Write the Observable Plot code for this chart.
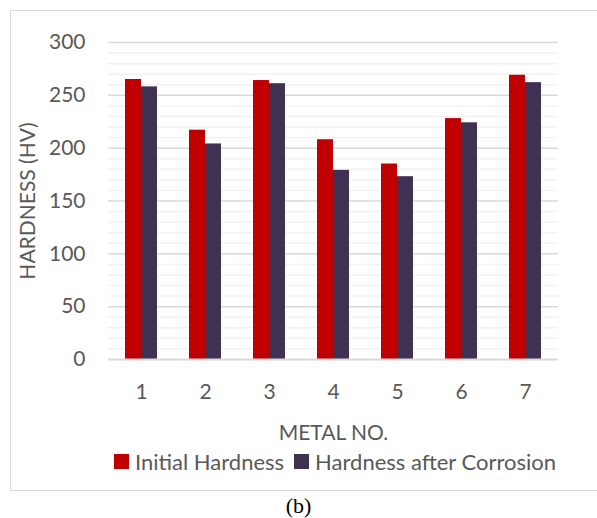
<!DOCTYPE html>
<html>
<head>
<meta charset="utf-8">
<script src="https://cdn.jsdelivr.net/npm/d3@7"></script>
<script src="https://cdn.jsdelivr.net/npm/@observablehq/plot@0.6"></script>
<style>
  html, body { margin: 0; padding: 0; background: #fff; overflow: hidden; }
  #wrap { position: relative; width: 597px; height: 518px; font-family: Lato, "Open Sans", sans-serif; }
  #frame { position: absolute; left: 10px; top: 10px; width: 600px; height: 479px; border: 1.5px solid #d9d9d9; border-right: none; }
  #chart { position: absolute; left: 0; top: 0; }
  #legend { position: absolute; top: 448px; left: 114px; display: flex; align-items: center; font-size: 22px; color: #595959; white-space: nowrap; }
  #legend .sw { width: 15px; height: 15px; display: inline-block; margin-right: 6px; }
  #legend .item { display: flex; align-items: center; margin-right: 10px; }
  #caption { position: absolute; top: 493px; left: 0; width: 597px; text-align: center; font-family: "Liberation Serif", "DejaVu Serif", serif; font-size: 22px; color: #000; }
</style>
</head>
<body>
<div id="wrap">
  <div id="frame"></div>
  <div id="chart"></div>
  <div id="legend"></div>
  <div id="caption">(b)</div>
</div>
<script>
const metals = ["1", "2", "3", "4", "5", "6", "7"];
const initialHardness = [265, 217, 264, 208, 185, 228, 269];
const afterCorrosion = [258, 204, 261, 179, 173, 224, 262];
const seriesNames = ["Initial Hardness", "Hardness after Corrosion"];
const seriesColors = ["#C00000", "#3F3151"];
const majorTicks = [0, 50, 100, 150, 200, 250, 300];
const minorTicks = d3.range(10, 300, 10).filter(v => v % 50 !== 0);

const initData = metals.map((m, i) => ({metal: m, value: initialHardness[i]}));
const afterData = metals.map((m, i) => ({metal: m, value: afterCorrosion[i]}));

const textColor = "#595959";

const chart = Plot.plot({
  width: 597,
  height: 450,
  marginTop: 42,
  marginBottom: 91,
  marginLeft: 108,
  marginRight: 39,
  style: {fontFamily: "Lato, 'Open Sans', sans-serif", fontSize: "21px", color: textColor, background: "transparent"},
  x: {domain: metals, padding: 0},
  y: {domain: [0, 300]},
  marks: [
    Plot.ruleY(minorTicks, {stroke: "#f2f2f2", strokeWidth: 1.5}),
    Plot.ruleY(majorTicks.filter(v => v > 0), {stroke: "#d9d9d9", strokeWidth: 1.5}),
    Plot.barY(initData, {x: "metal", y: "value", fill: seriesColors[0], insetLeft: 16, insetRight: 32}),
    Plot.barY(afterData, {x: "metal", y: "value", fill: seriesColors[1], insetLeft: 32, insetRight: 16}),
    Plot.ruleY([0], {stroke: "#d9d9d9", strokeWidth: 2}),
    Plot.axisY({ticks: majorTicks, tickSize: 0, tickPadding: 23, fill: textColor, label: "HARDNESS (HV)", labelAnchor: "center", labelArrow: "none", labelOffset: 88}),
    Plot.axisX({tickSize: 0, tickPadding: 25, fill: textColor, label: "METAL NO.", labelAnchor: "center", labelArrow: "none", labelOffset: 80})
  ]
});
document.getElementById("chart").appendChild(chart);

const legend = document.getElementById("legend");
seriesNames.forEach((name, i) => {
  const item = document.createElement("div");
  item.className = "item";
  const sw = document.createElement("span");
  sw.className = "sw";
  sw.style.background = seriesColors[i];
  item.appendChild(sw);
  const t = document.createElement("span");
  t.textContent = name;
  item.appendChild(t);
  legend.appendChild(item);
});
</script>
</body>
</html>
